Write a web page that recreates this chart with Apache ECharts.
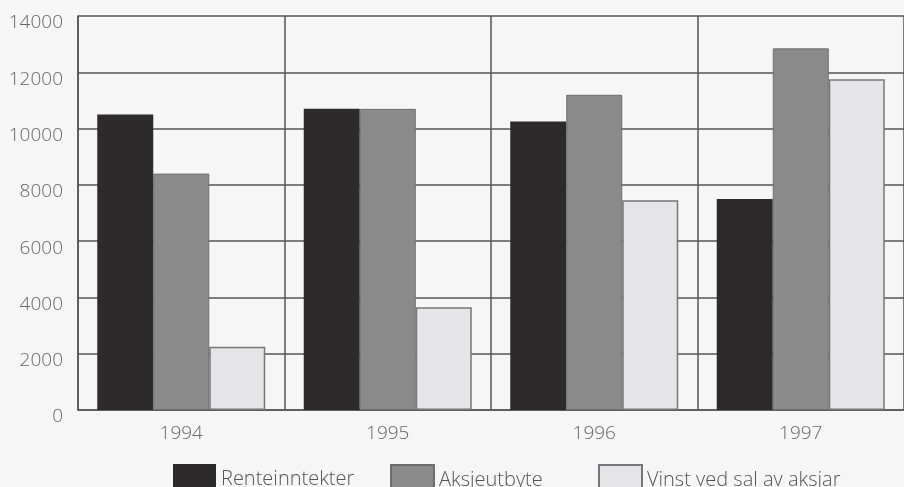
<!DOCTYPE html>
<html>
<head>
<meta charset="utf-8">
<script src="https://cdn.jsdelivr.net/npm/echarts@6/dist/echarts.min.js"></script>
<style>
  html, body { margin: 0; padding: 0; background: #f6f6f6; }
  #chart { width: 904px; height: 487px; }
</style>
</head>
<body>
<div id="chart"></div>
<script>
let years = ['1994', '1995', '1996', '1997'];
let renteinntekter = [10500, 10700, 10250, 7500];
let aksjeutbyte = [8400, 10700, 11200, 12850];
let vinst = [2250, 3650, 7450, 11750];
let y_ticks = [0, 2000, 4000, 6000, 8000, 10000, 12000, 14000];

let chart = echarts.init(document.getElementById('chart'));

let font = '"Open Sans", "Noto Sans", sans-serif';

function legend_at(name, left) {
    return {
        data: [name],
        left: left,
        top: 459,
        itemWidth: 43,
        itemHeight: 30,
        itemGap: 8,
        icon: 'rect',
        textStyle: {
            fontFamily: font,
            fontSize: 20,
            fontWeight: 300,
            color: '#555'
        }
    };
}

let option = {
    backgroundColor: '#f6f6f6',
    animation: false,
    grid: {
        left: 78,
        top: 16,
        width: 827,
        height: 394,
        containLabel: false
    },
    legend: [
        legend_at('Renteinntekter', 168),
        legend_at('Aksjeutbyte', 385),
        legend_at('Vinst ved sal av aksjar', 593)
    ],
    xAxis: {
        type: 'category',
        data: years,
        boundaryGap: true,
        axisLine: { lineStyle: { color: '#555', width: 1.5 } },
        axisTick: { show: false },
        axisLabel: {
            margin: 14,
            fontFamily: font,
            fontSize: 19,
            fontWeight: 300,
            color: '#666'
        },
        splitLine: {
            show: true,
            interval: 0,
            lineStyle: { color: '#555', width: 1.5 }
        }
    },
    yAxis: {
        type: 'value',
        min: y_ticks[0],
        max: y_ticks[y_ticks.length - 1],
        interval: 2000,
        axisLine: { show: true, lineStyle: { color: '#555', width: 1.5 } },
        axisTick: { show: false },
        axisLabel: {
            margin: 15,
            formatter: function (v) {
                return '{v|' + v + '}';
            },
            rich: {
                v: {
                    fontFamily: font,
                    fontSize: 19,
                    fontWeight: 300,
                    color: '#666',
                    padding: [14, 0, 0, 0]
                }
            }
        },
        splitLine: {
            show: true,
            lineStyle: { color: '#555', width: 1.5 }
        }
    },
    series: [
        {
            name: 'Renteinntekter',
            type: 'bar',
            data: renteinntekter,
            barWidth: 56,
            barGap: '0%',
            itemStyle: { color: '#2c2a2a' }
        },
        {
            name: 'Aksjeutbyte',
            type: 'bar',
            data: aksjeutbyte,
            barWidth: 56,
            barGap: '0%',
            itemStyle: { color: '#8b8b8b', borderColor: '#6e6e6e', borderWidth: 1 }
        },
        {
            name: 'Vinst ved sal av aksjar',
            type: 'bar',
            data: vinst,
            barWidth: 56,
            barGap: '0%',
            itemStyle: { color: '#e5e5e7', borderColor: '#777', borderWidth: 1.5 }
        }
    ]
};

chart.setOption(option);
</script>
</body>
</html>
